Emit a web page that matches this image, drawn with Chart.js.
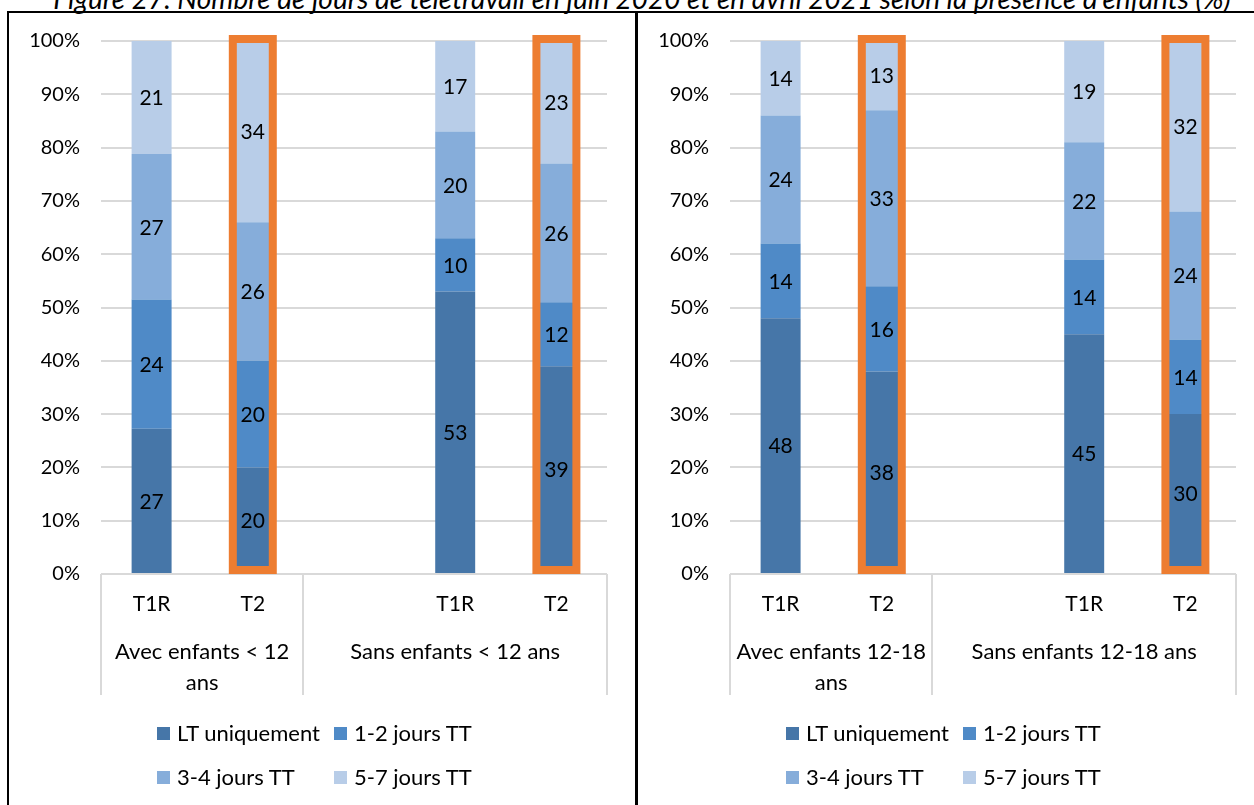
<!DOCTYPE html>
<html><head><meta charset="utf-8">
<script src="https://cdn.jsdelivr.net/npm/chart.js@4.4.0/dist/chart.umd.min.js"></script>
<style>
html,body{margin:0;padding:0;background:#fff;}
body{width:1254px;height:805px;overflow:hidden;position:relative;font-family:Lato,sans-serif;}
#title{position:absolute;left:0;width:1284px;top:-19px;text-align:center;font-style:italic;font-size:28px;line-height:34px;color:#000;white-space:nowrap;}
#frame{position:absolute;left:7px;top:11px;width:1270px;height:820px;border:2px solid #000;box-sizing:border-box;}
#divider{position:absolute;left:635px;top:11px;width:3px;height:800px;background:#000;}
canvas{position:absolute;left:0;top:0;}
.lg{position:absolute;height:26px;line-height:26px;font-size:22px;color:#000;white-space:nowrap;display:flex;align-items:center;}
.lg span.box{display:inline-block;width:13px;height:13px;margin-right:7px;}
</style></head>
<body>
<div id="title">Figure 27. Nombre de jours de télétravail en juin 2020 et en avril 2021 selon la présence d'enfants (%)</div>
<div id="frame"></div>
<div id="divider"></div>
<canvas id="c1" width="1254" height="805"></canvas>
<canvas id="c2" width="1254" height="805"></canvas>
<script>
// ---- data ----
const seriesNames = ['LT uniquement', '1-2 jours TT', '3-4 jours TT', '5-7 jours TT'];
const categories = ['T1R', 'T2', '', 'T1R', 'T2'];
const categoryGroup = [0, 0, 1, 1, 1];
const highlightPeriod = 'T2';
const yTicks = [0, 10, 20, 30, 40, 50, 60, 70, 80, 90, 100];

const panel1Groups = [['Avec enfants < 12', 'ans'], ['Sans enfants < 12 ans']];
const p1LT  = [27, 20, null, 53, 39];
const p1J12 = [24, 20, null, 10, 12];
const p1J34 = [27, 26, null, 20, 26];
const p1J57 = [21, 34, null, 17, 23];

const panel2Groups = [['Avec enfants 12-18', 'ans'], ['Sans enfants 12-18 ans']];
const p2LT  = [48, 38, null, 45, 30];
const p2J12 = [14, 16, null, 14, 14];
const p2J34 = [24, 33, null, 22, 24];
const p2J57 = [14, 13, null, 19, 32];

// ---- styles ----
const seriesColors = ['#4676A8', '#4F8AC7', '#86ADDA', '#B8CDE8'];
const orange = '#ED7D31';
const gridColor = '#D9D9D9';
const FONT = 'Lato, sans-serif';

const plugin = {
  id: 'custom',
  afterDatasetsDraw(chart) {
    const ctx = chart.ctx;
    const n = chart.data.labels.length;
    const nd = chart.data.datasets.length;
    ctx.save();
    ctx.strokeStyle = orange;
    ctx.lineWidth = 8;
    for (let j = 0; j < n; j++) {
      if (chart.data.labels[j] !== highlightPeriod) continue;
      const topBar = chart.getDatasetMeta(nd - 1).data[j];
      const baseBar = chart.getDatasetMeta(0).data[j];
      const w = topBar.width;
      const y0 = topBar.y - 2;
      const y1 = baseBar.base - 3;
      ctx.strokeRect(topBar.x - w / 2, y0, w, y1 - y0);
    }
    ctx.restore();
    ctx.save();
    ctx.fillStyle = '#000';
    ctx.font = '21px ' + FONT;
    ctx.textAlign = 'center';
    ctx.textBaseline = 'middle';
    chart.data.datasets.forEach((ds, i) => {
      chart.getDatasetMeta(i).data.forEach((bar, j) => {
        const v = ds.rawValues[j];
        if (v == null) return;
        ctx.fillText(String(v), bar.x, (bar.y + bar.base) / 2 + 1);
      });
    });
    ctx.restore();
  },
  afterDraw(chart) {
    const ctx = chart.ctx;
    const xs = chart.scales.x;
    const groups = chart.options.plugins.custom.groups;
    const step = xs.getPixelForTick(1) - xs.getPixelForTick(0);
    ctx.save();
    ctx.strokeStyle = gridColor;
    ctx.lineWidth = 2;
    ctx.fillStyle = '#000';
    ctx.font = '22px ' + FONT;
    ctx.textAlign = 'center';
    ctx.textBaseline = 'middle';
    groups.forEach((lines, g) => {
      const idx = categoryGroup.map((c, k) => c === g ? k : -1).filter(k => k >= 0);
      const left = xs.getPixelForTick(idx[0]) - step / 2;
      const right = xs.getPixelForTick(idx[idx.length - 1]) + step / 2;
      [left, right].forEach(x => {
        ctx.beginPath();
        ctx.moveTo(Math.round(x), xs.top);
        ctx.lineTo(Math.round(x), xs.bottom);
        ctx.stroke();
      });
      lines.forEach((t, li) => {
        ctx.fillText(t, (left + right) / 2, xs.top + 78 + li * 31);
      });
    });
    ctx.restore();
  }
};

function buildChart(id, groups, seriesValues, padLeft, yWidth, padRight) {
  const totals = categories.map((c, j) => seriesValues.reduce((s, arr) => s + (arr[j] || 0), 0));
  const datasets = seriesValues.map((arr, i) => ({
    label: seriesNames[i],
    data: arr.map((v, j) => v == null ? null : v / totals[j] * 100),
    rawValues: arr,
    backgroundColor: seriesColors[i],
    borderWidth: 0,
    barPercentage: 0.395,
    categoryPercentage: 1.0
  }));
  const chart = new Chart(document.getElementById(id), {
    type: 'bar',
    data: { labels: categories, datasets },
    options: {
      responsive: false,
      animation: false,
      devicePixelRatio: 1,
      layout: { padding: { left: padLeft, right: padRight, top: 41, bottom: 110 } },
      plugins: {
        legend: { display: false },
        tooltip: { enabled: false },
        custom: { groups }
      },
      scales: {
        x: {
          stacked: true,
          grid: { display: false, drawTicks: false },
          border: { display: false },
          ticks: { color: '#000', font: { family: FONT, size: 21 }, padding: 18, maxRotation: 0, autoSkip: false },
          afterFit(s) { s.height = 121; }
        },
        y: {
          stacked: true,
          min: 0, max: 100,
          afterBuildTicks(s) { s.ticks = yTicks.map(v => ({ value: v })); },
          grid: { color: gridColor, lineWidth: 2, drawTicks: false },
          border: { display: false },
          ticks: { color: '#000', font: { family: FONT, size: 20 }, padding: 21, callback: v => v + '%' },
          afterFit(s) { s.width = yWidth; }
        }
      }
    },
    plugins: [plugin]
  });
  const ca = chart.chartArea;
  const colX = [ca.left + 56, ca.left + 233];
  const rowY = [733, 777];
  seriesNames.forEach((name, i) => {
    const d = document.createElement('div');
    d.className = 'lg';
    d.style.left = colX[i % 2] + 'px';
    d.style.top = (rowY[Math.floor(i / 2)] - 13) + 'px';
    const b = document.createElement('span');
    b.className = 'box';
    b.style.background = seriesColors[i];
    d.appendChild(b);
    d.appendChild(document.createTextNode(name));
    document.body.appendChild(d);
  });
  return chart;
}

buildChart('c1', panel1Groups, [p1LT, p1J12, p1J34, p1J57], 0, 101, 1254 - 607);
buildChart('c2', panel2Groups, [p2LT, p2J12, p2J34, p2J57], 0, 730, 1254 - 1236);
</script>
</body></html>
